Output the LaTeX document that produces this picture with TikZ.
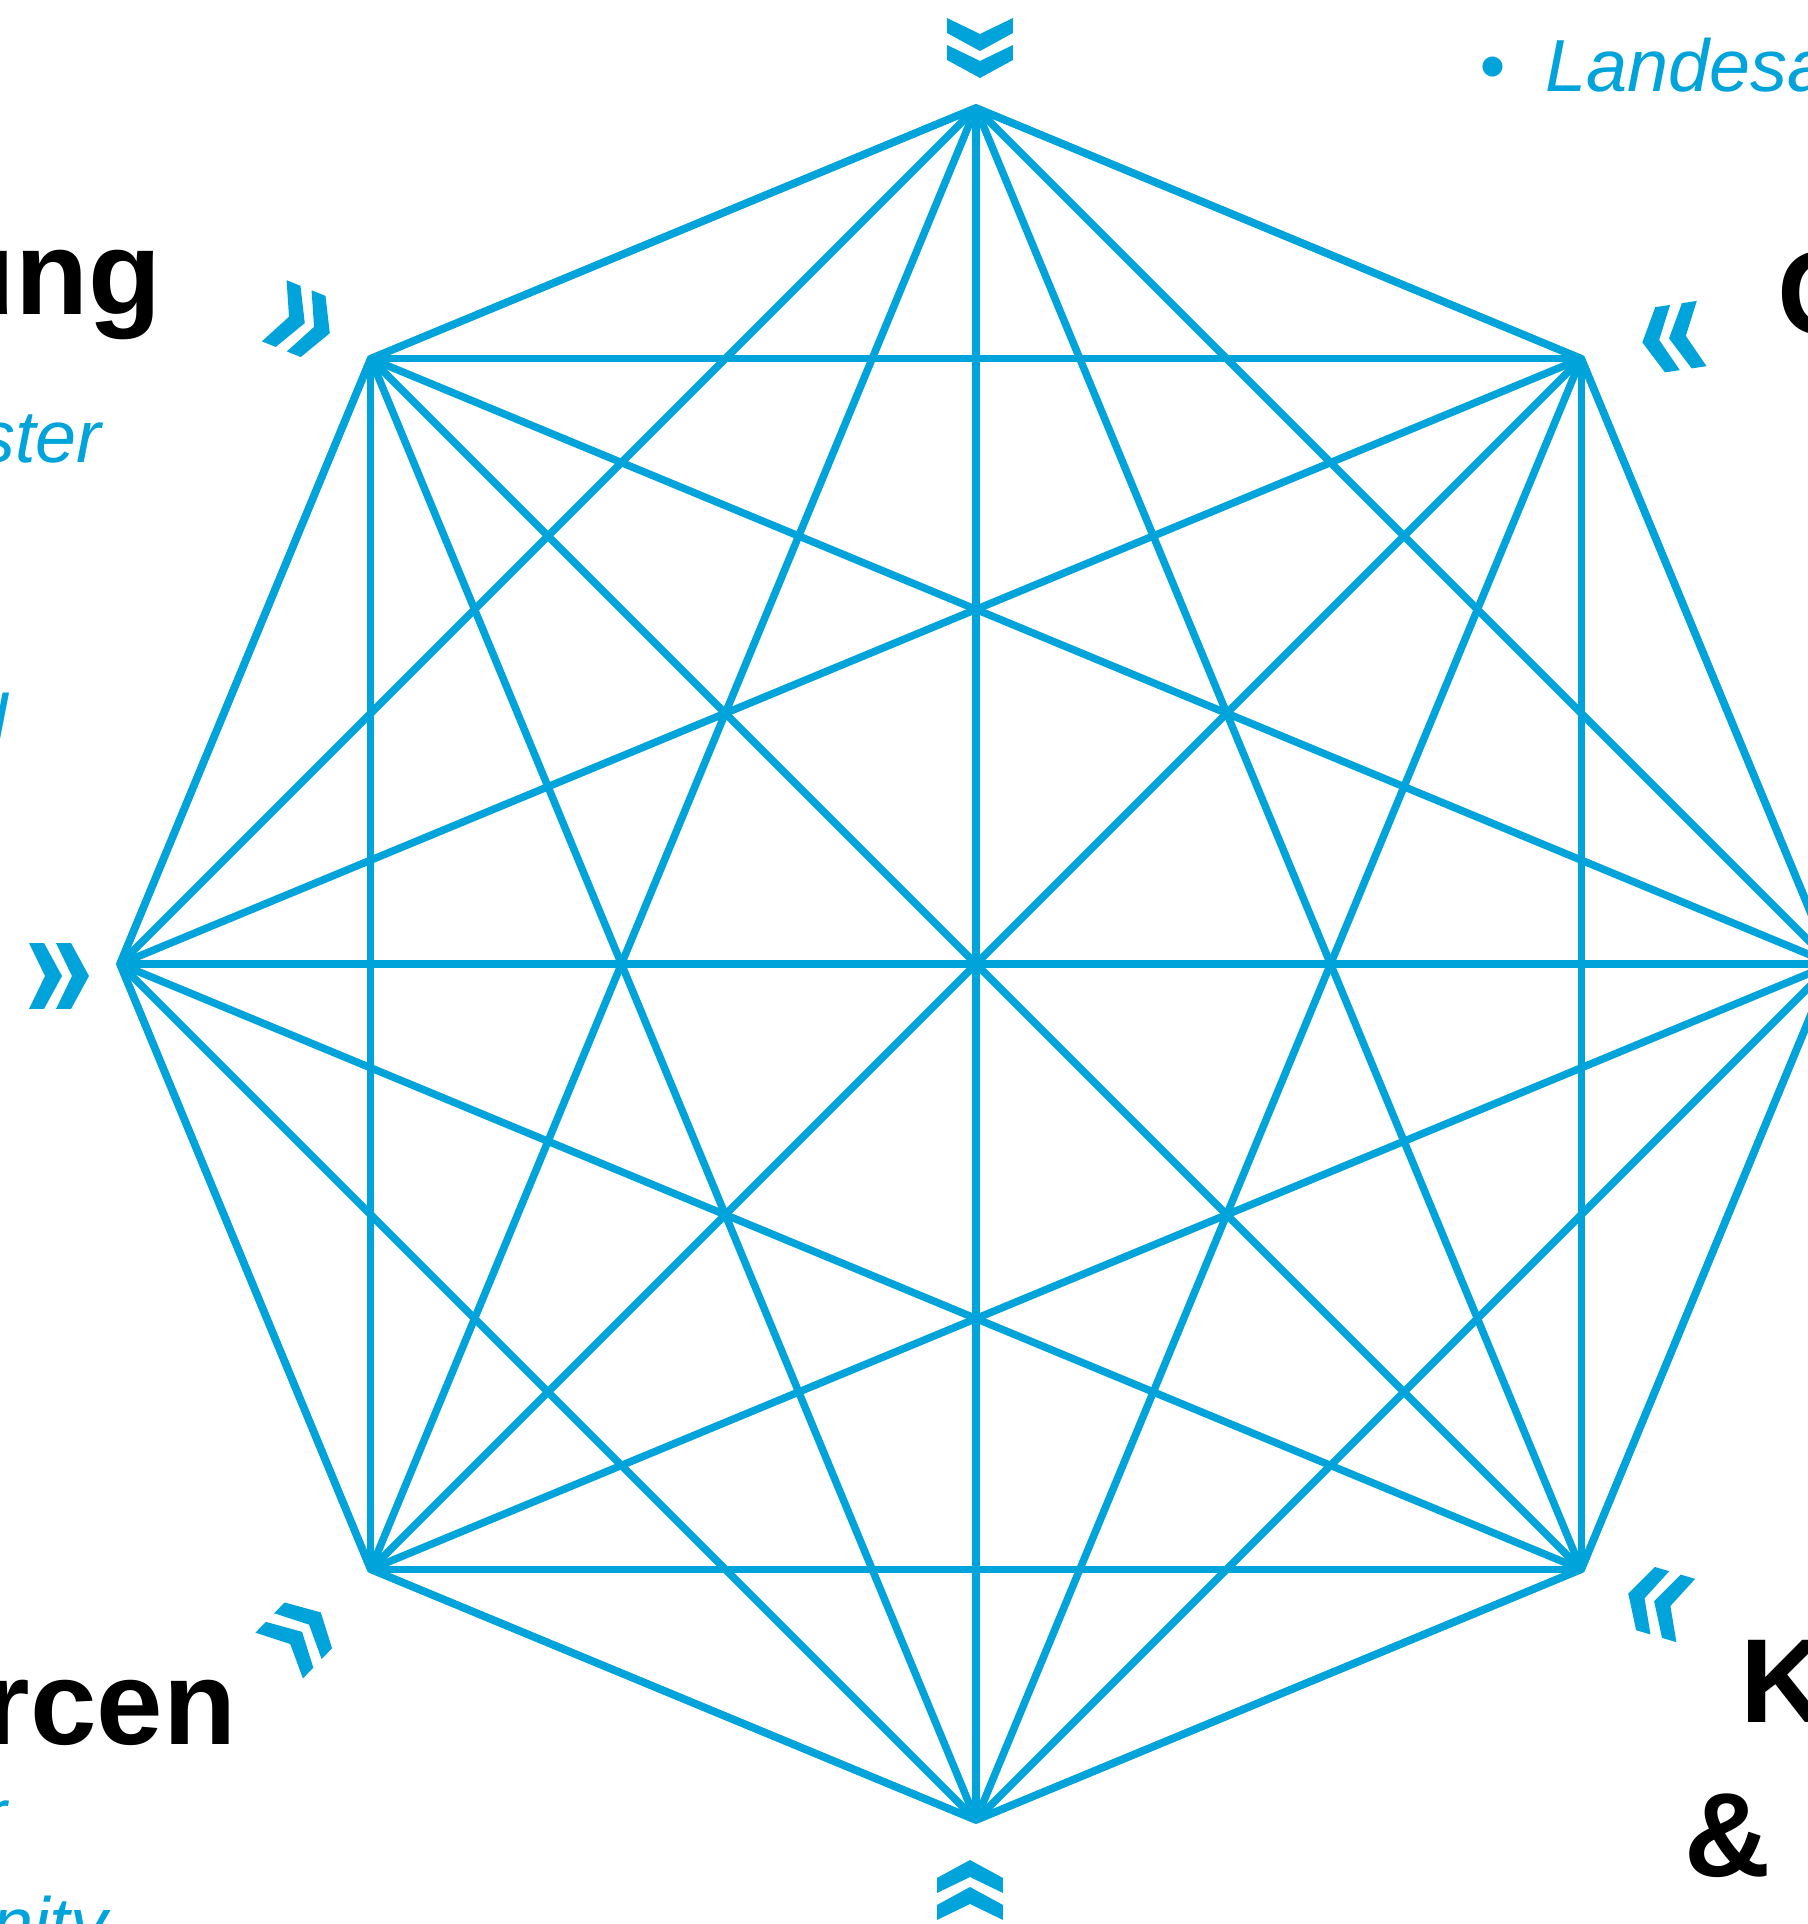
\documentclass[tikz,border=0pt]{standalone}
\usepackage{fontspec}
\setmainfont{Liberation Sans}
\usepackage{xcolor}
\usepackage{tikz}
\usetikzlibrary{positioning}
\definecolor{octblue}{RGB}{0,163,218}

\tikzset{
  chevrons/.pic={
    \fill[octblue, x=0.01cm, y=0.01cm]
      (-30,33) -- (-15,33) -- (3,0) -- (-15,-33) -- (-30,-33) -- (-14,0) -- cycle
      (-3,33) -- (12,33) -- (30,0) -- (12,-33) -- (-3,-33) -- (13,0) -- cycle;
  },
  octline/.style={draw=octblue, line width=0.075cm},
  headline/.style={font=\fontsize{34}{40}\selectfont\bfseries, inner sep=0pt},
  bluetext/.style={font=\fontsize{21}{25}\selectfont\itshape, text=octblue, inner sep=0pt}
}

\begin{document}
\begin{tikzpicture}
  \useasboundingbox (0,0) rectangle (18.08,19.24);
  \clip (0,0) rectangle (18.08,19.24);

  % Octagon corners
  \coordinate (ctr) at (9.76,9.60);
  \foreach \k in {0,...,7}
    \path (ctr) ++(90+45*\k:8.56) coordinate (v\k);

  % Every corner joined to every other one
  \foreach \i in {0,...,6} {
    \pgfmathtruncatemacro\jfirst{\i+1}
    \foreach \j in {\jfirst,...,7}
      \draw[octline] (v\i) -- (v\j);
  }
  \draw[octline, miter limit=10] (v0) -- (v1) -- (v2) -- (v3) -- (v4) -- (v5) -- (v6) -- (v7) -- cycle;

  % Double chevrons round the octagon
  \pic[rotate=-90] (chtop) at (9.80,18.76) {chevrons};
  \pic[rotate=-22] (chul) at (3.02,16.02) {chevrons};
  \pic[rotate=0] (chl) at (0.59,9.48) {chevrons};
  \pic[rotate=46] (chll) at (3.00,2.90) {chevrons};
  \pic[rotate=90] (chbot) at (9.70,0.34) {chevrons};
  \pic[rotate=163.5] (chlr) at (16.57,3.22) {chevrons};
  \pic[rotate=188.5] (chur) at (16.72,15.86) {chevrons};

  % Labels cut by the page edge
  \node[headline, anchor=base east] (ung) at (1.62,16.09) {ung};
  \node[bluetext, anchor=base east] (ster) at (1.02,14.61) {ster};
  \node[bluetext, anchor=base east] (ll) at (0.09,11.77) {l};
  \node[headline, anchor=base east] (rcen) at (2.37,1.79) {rcen};
  \node[bluetext, anchor=base east] (rr) at (0.08,0.83) {r};
  \node[bluetext, anchor=base east] (nity) at (1.08,-0.25) {nity};
  \node[headline, anchor=base west] (kk) at (17.40,2.01) {K};
  \node[headline, anchor=base west] (amp) at (16.84,0.47) {\&};
  \node[headline, anchor=base west] (qq) at (17.77,15.89) {Q};
  \node[bluetext, anchor=base] (bullet) at (14.92,18.32) {•};
  \node[bluetext, anchor=base west] (landesa) at (15.45,18.32) {Landesa};
\end{tikzpicture}
\end{document}
